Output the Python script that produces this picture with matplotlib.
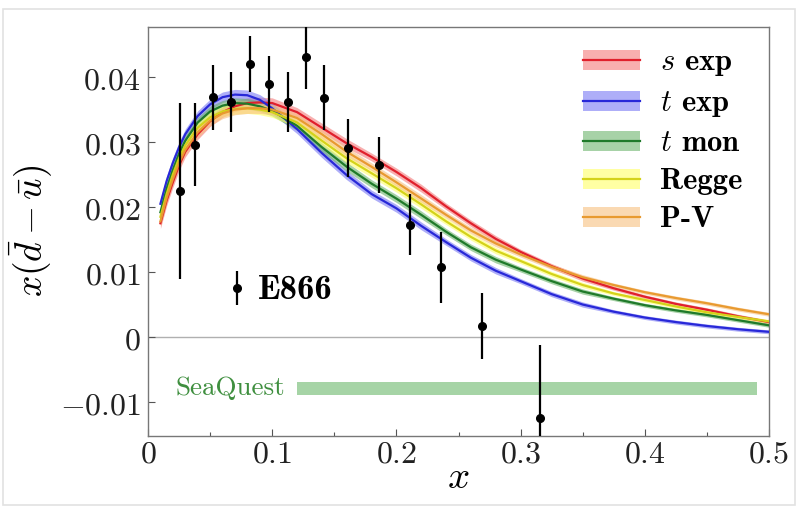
import matplotlib
matplotlib.use("Agg")
import matplotlib.pyplot as plt
from matplotlib.patches import Patch, Rectangle
from matplotlib.lines import Line2D
from matplotlib.legend_handler import HandlerTuple

plt.rcParams['mathtext.fontset'] = 'cm'

# ---------------- data ----------------
xg = [0.01, 0.015, 0.02, 0.025, 0.03, 0.04, 0.05, 0.06, 0.07, 0.08, 0.09, 0.10, 0.12, 0.14,
      0.16, 0.18, 0.20, 0.22, 0.24, 0.26, 0.28, 0.30, 0.325, 0.35, 0.375, 0.40, 0.425,
      0.45, 0.475, 0.50]

s_exp = [0.0175, 0.0210, 0.0238, 0.0264, 0.0285, 0.0312, 0.0332, 0.0346, 0.0355, 0.0360,
         0.0361, 0.0360, 0.0346, 0.0322, 0.0298, 0.0277, 0.0254, 0.0229, 0.0201, 0.0175,
         0.0151, 0.0131, 0.0109, 0.0090, 0.0075, 0.0062, 0.0051, 0.0042, 0.0032, 0.0023]
t_exp = [0.0205, 0.0240, 0.0268, 0.0292, 0.0312, 0.0340, 0.0358, 0.0369, 0.0373, 0.0372,
         0.0365, 0.0352, 0.0320, 0.0283, 0.0249, 0.0220, 0.0198, 0.0171, 0.0146, 0.0122,
         0.0102, 0.0086, 0.0066, 0.0050, 0.0039, 0.0030, 0.0023, 0.0017, 0.0012, 0.0008]
t_mon = [0.0192, 0.0228, 0.0257, 0.0282, 0.0302, 0.0330, 0.0347, 0.0356, 0.0360, 0.0359,
         0.0355, 0.0348, 0.0325, 0.0292, 0.0262, 0.0236, 0.0213, 0.0188, 0.0162, 0.0138,
         0.0119, 0.0104, 0.0086, 0.0070, 0.0059, 0.0049, 0.0041, 0.0034, 0.0026, 0.0018]
regge = [0.0185, 0.0220, 0.0250, 0.0275, 0.0295, 0.0322, 0.0338, 0.0347, 0.0351, 0.0352,
         0.0350, 0.0346, 0.0330, 0.0302, 0.0275, 0.0252, 0.0229, 0.0204, 0.0178, 0.0154,
         0.0133, 0.0117, 0.0097, 0.0080, 0.0067, 0.0057, 0.0047, 0.0038, 0.0031, 0.0024]
p_v = [0.0178, 0.0214, 0.0243, 0.0268, 0.0288, 0.0315, 0.0333, 0.0344, 0.0350, 0.0352,
       0.0352, 0.0350, 0.0337, 0.0312, 0.0285, 0.0262, 0.0238, 0.0213, 0.0188, 0.0164,
       0.0144, 0.0127, 0.0108, 0.0092, 0.0080, 0.0069, 0.0060, 0.0052, 0.0043, 0.0035]
band_hw = [0.0008, 0.0008, 0.0008, 0.0008, 0.0008, 0.0008, 0.0008, 0.0008, 0.0008, 0.0008,
           0.0008, 0.0008, 0.0007, 0.0007, 0.0007, 0.0006, 0.0006, 0.0006, 0.0005, 0.0005,
           0.0005, 0.0004, 0.0004, 0.0004, 0.0003, 0.0003, 0.0003, 0.0003, 0.0003, 0.0003]

series_labels = [r"$s$ exp", r"$t$ exp", r"$t$ mon", "Regge", "P-V"]

e866_x = [0.026, 0.038, 0.052, 0.0666, 0.0819, 0.0971, 0.1124, 0.127, 0.142, 0.1613,
          0.186, 0.211, 0.236, 0.269, 0.3153]
e866_y = [0.0225, 0.0296, 0.0369, 0.0361, 0.0420, 0.0389, 0.0361, 0.0431, 0.0368, 0.0291,
          0.0265, 0.0173, 0.0107, 0.0017, -0.0125]
e866_err = [0.0135, 0.0064, 0.0050, 0.0046, 0.0043, 0.0043, 0.0046, 0.0050, 0.0050, 0.0045,
            0.0043, 0.0047, 0.0055, 0.0051, 0.0113]

e866_key_x = [0.0717]
e866_key_y = [0.0076]
e866_key_err = [0.0026]

seaquest_x = [0.1197, 0.4906]
seaquest_y = -0.0079

xticks = [0, 0.1, 0.2, 0.3, 0.4, 0.5]
xtick_labels = ["$0$", "$0.1$", "$0.2$", "$0.3$", "$0.4$", "$0.5$"]
yticks = [-0.01, 0, 0.01, 0.02, 0.03, 0.04]
ytick_labels = ["$-0.01$", "$0$", "$0.01$", "$0.02$", "$0.03$", "$0.04$"]

# ---------------- styles ----------------
line_colors = ['#e0202c', '#2828d8', '#1f7a2a', '#d4d21a', '#e89a30']
band_colors = ['#f47a7a', '#7878f4', '#6cb46c', '#ffff66', '#f8c080']
band_alpha = 0.6

fig = plt.figure(figsize=(7.98, 5.07), dpi=100)
fig.add_artist(Rectangle((0.004, 0.004), 0.992, 0.978, transform=fig.transFigure,
                         fill=False, edgecolor='#e2e2e2', lw=1.2))
ax = fig.add_axes([148/798, 1-435.5/507, (769-148)/798, (435.5-27)/507])

series = [s_exp, t_exp, t_mon, regge, p_v]
handles = []
for vals, lc, bc, lab in zip(series, line_colors, band_colors, series_labels):
    lo = [v - h for v, h in zip(vals, band_hw)]
    hi = [v + h for v, h in zip(vals, band_hw)]
    ax.fill_between(xg, lo, hi, color=bc, alpha=band_alpha, lw=0, zorder=2)
    ax.plot(xg, vals, color=lc, lw=1.6, zorder=3)
    handles.append((Patch(facecolor=bc, alpha=band_alpha, edgecolor='none'),
                    Line2D([], [], color=lc, lw=1.6)))

ax.axhline(0, color='#b0b0b0', lw=1.0, zorder=1)

sq_w = 0.0019
ax.fill_between(seaquest_x, seaquest_y - sq_w/2, seaquest_y + sq_w/2,
                color='#a6d4a6', lw=0, zorder=2)
ax.text(0.0225, seaquest_y, "SeaQuest", color='#3f8f3f', family='cmr10',
        fontsize=19.5, va='center', ha='left')

ax.errorbar(e866_x, e866_y, yerr=e866_err, fmt='o', color='black', ms=5.5,
            elinewidth=1.6, capsize=0, zorder=5)
ax.errorbar(e866_key_x, e866_key_y, yerr=e866_key_err, fmt='o', color='black', ms=5.5,
            elinewidth=1.6, capsize=0, zorder=5)
ax.text(0.0885, 0.0072, "E866", family='cmb10', fontsize=25, va='center', ha='left')

ax.set_xlim(0, 0.5)
ax.set_ylim(-0.01515, 0.0477)
ax.set_xticks(xticks)
ax.set_xticklabels(xtick_labels)
ax.set_yticks(yticks)
ax.set_yticklabels(ytick_labels)
ax.set_xticks([0.05, 0.15, 0.25, 0.35, 0.45], minor=True)
ax.tick_params(axis='both', which='major', direction='in', length=5, width=0.8,
               colors='#555555', labelcolor='#222222', labelsize=23, pad=5)
ax.tick_params(axis='x', which='major', pad=2)
ax.tick_params(axis='x', which='minor', direction='in', length=3, width=0.8, colors='#555555')
for sp in ax.spines.values():
    sp.set_color('#777777')
    sp.set_linewidth(1.0)

ax.set_xlabel("$x$", fontsize=28)
ax.xaxis.set_label_coords(0.5, -0.055)
ax.set_ylabel(r"$x(\bar{d}-\bar{u})$", fontsize=27, labelpad=4)

leg = ax.legend(handles, series_labels, handler_map={tuple: HandlerTuple(ndivide=1)},
                loc='upper left', bbox_to_anchor=(0.700, 0.945), frameon=False,
                prop={'family': 'cmb10', 'size': 22}, handlelength=1.87,
                handleheight=0.62, handletextpad=0.65, labelspacing=0.36,
                borderpad=0, borderaxespad=0)

fig.savefig("out.png", dpi=100)
